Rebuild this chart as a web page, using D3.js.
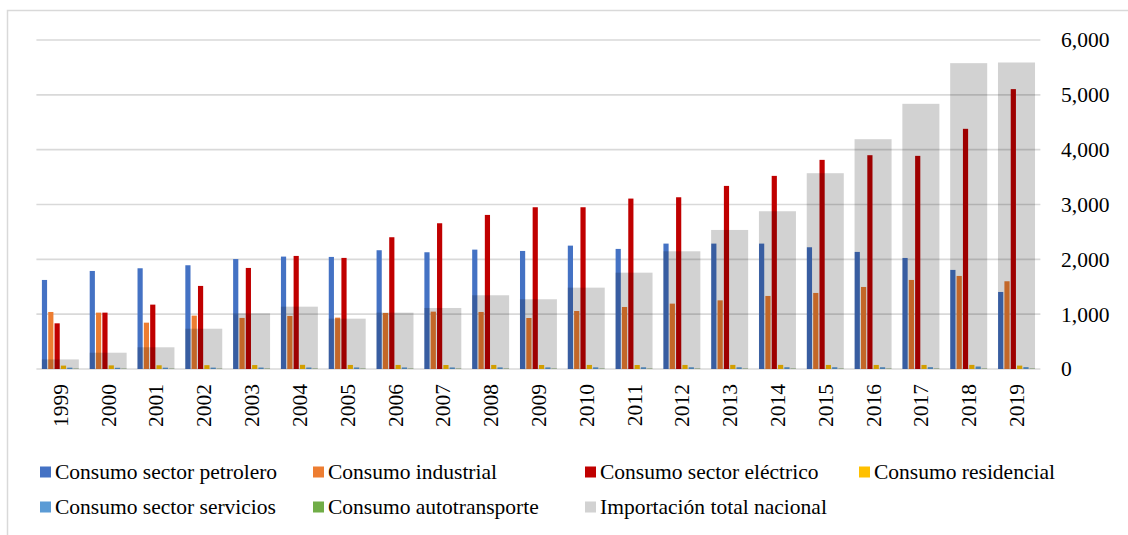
<!DOCTYPE html>
<html>
<head>
<meta charset="utf-8">
<script src="https://cdn.jsdelivr.net/npm/d3@7"></script>
<style>
  body { margin: 0; background: #fff; }
  svg { display: block; }
</style>
</head>
<body>
<svg id="chart" width="1128" height="535" font-family="Liberation Serif"></svg>
<script>
// Years on the category axis
const years = ["1999","2000","2001","2002","2003","2004","2005","2006","2007","2008","2009",
               "2010","2011","2012","2013","2014","2015","2016","2017","2018","2019"];

// Consumption by sector
const petrolero      = [1624,1788,1837,1892,2005,2050,2044,2166,2129,2177,2153,2250,2190,2287,2287,2287,2220,2135,2025,1807,1405];
const industrial     = [1040,1028, 845, 973, 931, 967, 937,1022,1046,1040, 930,1058,1131,1192,1252,1332,1387,1496,1624,1697,1600];
const electrico      = [ 833,1028,1174,1515,1843,2062,2026,2403,2658,2810,2950,2950,3108,3132,3339,3522,3814,3899,3887,4380,5104];
const residencial    = [  62,  66,  68,  70,  72,  76,  74,  74,  73,  74,  73,  74,  73,  74,  75,  75,  74,  74,  74,  75,  62];
const servicios      = [  24,  22,  24,  25,  26,  27,  28,  28,  28,  29,  29,  30,  31,  31,  31,  32,  32,  32,  33,  45,  34];
const autotransporte = [   4,   4,   4,   4,   5,   5,   5,   5,   5,   5,   5,   5,   5,   5,   5,   5,   5,   5,   5,   5,   5];

// Total national imports (wide bar behind each cluster)
const importacion    = [ 175, 297, 396, 735,1015,1137, 918,1028,1113,1345,1272,1484,1757,2147,2536,2877,3571,4191,4836,5578,5590];

const yTicks = [0,1000,2000,3000,4000,5000,6000];

const seriesNames  = ["Consumo sector petrolero","Consumo industrial","Consumo sector eléctrico",
                      "Consumo residencial","Consumo sector servicios","Consumo autotransporte"];
const seriesValues = [petrolero, industrial, electrico, residencial, servicios, autotransporte];
const seriesColors = ["#4472C4","#ED7D31","#C00000","#FFC000","#5B9BD5","#70AD47"];
const importName  = "Importación total nacional";
const importColor = "#D2D2D2";

const FONT = "Liberation Serif";
const FONT_SIZE = 21.5;

const series = seriesNames.map((name, i) => ({ name, color: seriesColors[i], values: seriesValues[i] }));

const svg = d3.select("#chart");

// Chart frame
svg.append("rect")
  .attr("x", 7.5).attr("y", 10.5)
  .attr("width", 1140).attr("height", 540)
  .attr("fill", "none").attr("stroke", "#D9D9D9").attr("stroke-width", 1.5);

const x = d3.scaleBand().domain(years).range([36.4, 1040.4]).padding(0);
const y = d3.scaleLinear().domain([0, 6000]).range([369, 40]);

const clusterHalf = x.bandwidth() * 0.385;
const xs = d3.scaleBand().domain(seriesNames).range([-clusterHalf, clusterHalf]).paddingInner(0.18);

// Horizontal gridlines
svg.append("g")
  .selectAll("line")
  .data(yTicks)
  .join("line")
  .attr("x1", x.range()[0]).attr("x2", x.range()[1])
  .attr("y1", d => y(d)).attr("y2", d => y(d))
  .attr("stroke", "#D9D9D9").attr("stroke-width", 1.6);

// Clustered sector bars
const center = yr => x(yr) + x.bandwidth() / 2;
svg.append("g")
  .selectAll("g")
  .data(series)
  .join("g")
  .attr("fill", d => d.color)
  .selectAll("rect")
  .data(d => d.values.map((v, i) => ({ name: d.name, year: years[i], v })))
  .join("rect")
  .attr("x", d => center(d.year) + xs(d.name))
  .attr("width", xs.bandwidth())
  .attr("y", d => y(d.v))
  .attr("height", d => y(0) - y(d.v));

// Imports: translucent wide bars over the clusters
const impWidth = x.bandwidth() * 0.775;
svg.append("g")
  .selectAll("rect")
  .data(importacion.map((v, i) => ({ year: years[i], v })))
  .join("rect")
  .attr("x", d => center(d.year) - impWidth / 2)
  .attr("width", impWidth)
  .attr("y", d => y(d.v))
  .attr("height", d => y(0) - y(d.v))
  .attr("fill", "#000").attr("fill-opacity", 0.175);

// Right value axis
const yAxis = svg.append("g")
  .attr("transform", "translate(1061,0)")
  .call(d3.axisRight(y).tickValues(yTicks).tickFormat(d3.format(",")).tickSize(0).tickPadding(0))
  .attr("font-family", FONT).attr("font-size", FONT_SIZE);
yAxis.select(".domain").remove();
yAxis.selectAll("text").attr("fill", "#000");

// Year labels, rotated
const xAxis = svg.append("g")
  .attr("transform", `translate(0,${y(0)})`)
  .call(d3.axisBottom(x).tickSize(0))
  .attr("font-family", FONT).attr("font-size", FONT_SIZE);
xAxis.select(".domain").remove();
xAxis.selectAll("text")
  .attr("fill", "#000")
  .attr("transform", "rotate(-90)")
  .attr("x", -15).attr("y", 0).attr("dy", "0.35em")
  .attr("text-anchor", "end");

// Legend
const legendItems = [
  ...series.map(s => ({ name: s.name, color: s.color })),
  { name: importName, color: importColor }
];
const legendCols = [40, 313, 585, 859];
const legendRows = [472, 507];
const legendPos = [[0,0],[1,0],[2,0],[3,0],[0,1],[1,1],[2,1]];

const legend = svg.append("g")
  .attr("font-family", FONT).attr("font-size", FONT_SIZE)
  .selectAll("g")
  .data(legendItems)
  .join("g")
  .attr("transform", (d, i) => `translate(${legendCols[legendPos[i][0]]},${legendRows[legendPos[i][1]]})`);
legend.append("rect")
  .attr("x", 0).attr("y", -5.5).attr("width", 11).attr("height", 11)
  .attr("fill", d => d.color);
legend.append("text")
  .attr("x", 15).attr("y", 0).attr("dy", "0.33em")
  .attr("fill", "#000")
  .text(d => d.name);
</script>
</body>
</html>
